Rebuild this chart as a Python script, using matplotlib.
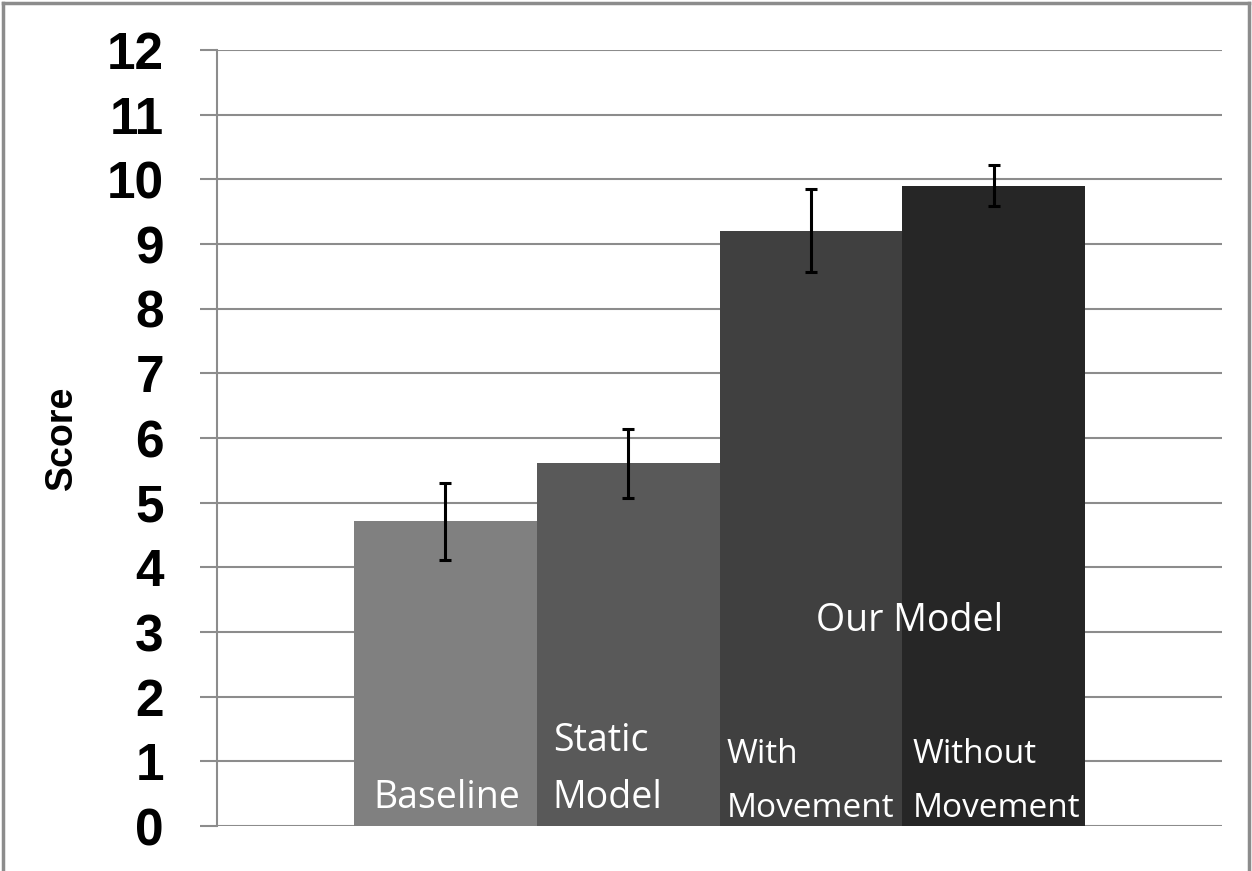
import matplotlib
matplotlib.use("Agg")
import matplotlib.pyplot as plt
from matplotlib.lines import Line2D

categories = ["Baseline", "Static\nModel", "With\nMovement", "Without\nMovement"]
scores = [4.72, 5.61, 9.20, 9.90]
err_low = [4.11, 5.07, 8.56, 9.59]
err_high = [5.30, 6.14, 9.85, 10.22]
bar_colors = ["#808080", "#595959", "#404040", "#262626"]
yticks = list(range(0, 13))
group_label = "Our Model"
ylabel = "Score"

fig = plt.figure(figsize=(12.52, 8.71), dpi=100)
ax = fig.add_axes([217/1252, 1-826/871, (1222-217)/1252, (826-50)/871])

x = list(range(len(categories)))
yerr = [[s - lo for s, lo in zip(scores, err_low)],
        [hi - s for s, hi in zip(scores, err_high)]]
ax.bar(x, scores, width=1.0, color=bar_colors, zorder=2)
ax.errorbar(x, scores, yerr=yerr, fmt="none", ecolor="black",
            elinewidth=2.2, capsize=4.5, capthick=2.2, zorder=3)

ax.set_xlim(-1.25, 4.25)
ax.set_ylim(0, 12)
ax.set_yticks(yticks)
ax.set_xticks([])
ax.yaxis.grid(True, color="#8c8c8c", linewidth=1.5, zorder=0)
ax.set_axisbelow(True)
for s in ["top", "right", "bottom"]:
    ax.spines[s].set_visible(False)
ax.spines["left"].set_color("#8c8c8c")
ax.spines["left"].set_linewidth(1.5)
ax.tick_params(axis="y", length=12.2, width=1.5, color="#8c8c8c", pad=26,
               labelsize=37)
for lab in ax.get_yticklabels():
    lab.set_fontfamily("Liberation Sans")
    lab.set_fontweight("bold")

ax.set_ylabel(ylabel, fontsize=27, fontweight="bold", family="Liberation Sans",
              labelpad=0)
ax.yaxis.set_label_coords((80-217)/(1222-217), 0.5)

# category labels inside the bars
sizes = [27, 27, 24, 24]
offsets = [0.104, 0.088, 0.04, 0.055]
line1_y = [None, 1.16, 0.97, 0.97]
line2_y = [0.28, 0.28, 0.14, 0.14]
for i, cat in enumerate(categories):
    parts = cat.split("\n")
    left = x[i] - 0.5 + offsets[i]
    kw = dict(color="white", fontsize=sizes[i], family="Open Sans",
              ha="left", va="baseline", zorder=4)
    if len(parts) == 1:
        ax.text(left, line2_y[i], parts[0], **kw)
    else:
        ax.text(left, line1_y[i], parts[0], **kw)
        ax.text(left, line2_y[i], parts[1], **kw)
ax.text((x[2] + x[3]) / 2 + 0.04, 3.02, group_label, color="white",
        fontsize=27, family="Open Sans", ha="center", va="baseline", zorder=4)

# figure border
bc = "#8c8c8c"
fig.add_artist(Line2D([3/1252, 3/1252], [0, 1-3/871], color=bc, lw=2.5,
                      transform=fig.transFigure))
fig.add_artist(Line2D([3/1252, 1249/1252], [1-3/871, 1-3/871], color=bc, lw=2.5,
                      transform=fig.transFigure))
fig.add_artist(Line2D([1249/1252, 1249/1252], [0, 1-3/871], color=bc, lw=2.5,
                      transform=fig.transFigure))

fig.savefig("out.png", dpi=100)
